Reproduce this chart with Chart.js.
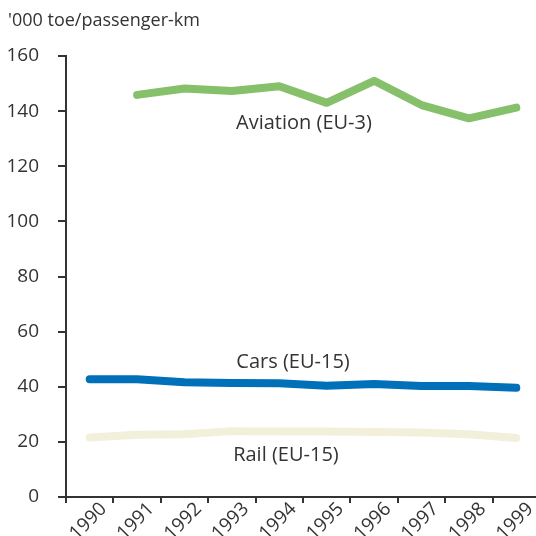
<!DOCTYPE html>
<html>
<head>
<meta charset="utf-8">
<script src="https://cdn.jsdelivr.net/npm/chart.js@4.4.1/dist/chart.umd.min.js"></script>
<style>
  html, body { margin: 0; padding: 0; background: #fff; overflow: hidden; }
  #wrap { position: relative; width: 540px; height: 536px; }
</style>
</head>
<body>
<div id="wrap"><canvas id="chart"></canvas></div>
<script>
// data
const years = ["1990", "1991", "1992", "1993", "1994", "1995", "1996", "1997", "1998", "1999"];
const aviation = [null, 145.9, 148.2, 147.3, 149.0, 143.0, 151.0, 142.2, 137.4, 141.3];
const cars = [42.7, 42.7, 41.6, 41.4, 41.3, 40.4, 41.0, 40.3, 40.3, 39.6];
const rail = [21.6, 22.6, 22.8, 23.9, 23.8, 23.8, 23.6, 23.4, 22.8, 21.4];
const yTicks = [0, 20, 40, 60, 80, 100, 120, 140, 160];
const unitLabel = "'000 toe/passenger-km";

// series name labels: [text, category index, value]
const seriesLabels = [
    ["Aviation (EU-3)", 4.52, 135.5],
    ["Cars (EU-15)", 4.29, 49],
    ["Rail (EU-15)", 4.14, 15.3]
];

const FONT = "'Open Sans', sans-serif";
const INK = "#333333";

const textPlugin = {
    id: "textPlugin",
    afterDatasetsDraw(chart) {
        const ctx = chart.ctx;
        const x = chart.scales.x;
        const y = chart.scales.y;
        ctx.save();
        ctx.fillStyle = INK;
        ctx.font = "18px " + FONT;
        ctx.textBaseline = "middle";
        ctx.textAlign = "left";
        ctx.fillText(unitLabel, 8, 21);
        ctx.textAlign = "center";
        ctx.font = "20px " + FONT;
        seriesLabels.forEach(([txt, idx, val]) => {
            const px = x.getPixelForValue(0) + idx * (x.getPixelForValue(1) - x.getPixelForValue(0));
            ctx.fillText(txt, px, y.getPixelForValue(val));
        });
        ctx.restore();
    }
};

function lineSet(label, data, color) {
    return {
        label,
        data,
        borderColor: color,
        backgroundColor: color,
        borderWidth: 8,
        pointRadius: 0,
        tension: 0,
        borderCapStyle: "round",
        borderJoinStyle: "round",
        spanGaps: false
    };
}

new Chart(document.getElementById("chart"), {
    type: "line",
    data: {
        labels: years,
        datasets: [
            lineSet("Aviation (EU-3)", aviation, "#86c06b"),
            lineSet("Cars (EU-15)", cars, "#0070b8"),
            lineSet("Rail (EU-15)", rail, "#f2f0da")
        ]
    },
    options: {
        responsive: true,
        maintainAspectRatio: false,
        animation: false,
        layout: { padding: { top: 56, left: 0, right: 0, bottom: 0 } },
        plugins: {
            legend: { display: false },
            tooltip: { enabled: false }
        },
        scales: {
            x: {
                type: "category",
                offset: true,
                afterFit(axis) { axis.height = 39; },
                border: { display: true, color: INK, width: 2 },
                grid: {
                    offset: true,
                    drawOnChartArea: false,
                    drawTicks: true,
                    tickLength: 6,
                    color: INK,
                    lineWidth: 2
                },
                ticks: {
                    color: INK,
                    font: { family: FONT, size: 19 },
                    minRotation: 45,
                    maxRotation: 45,
                    padding: -5,
                    labelOffset: 14,
                    autoSkip: false
                }
            },
            y: {
                min: 0,
                max: 160,
                afterFit(axis) { axis.width = 66; },
                afterBuildTicks(axis) {
                    axis.ticks = yTicks.map(v => ({ value: v }));
                },
                border: { display: true, color: INK, width: 2 },
                grid: {
                    drawOnChartArea: false,
                    drawTicks: true,
                    tickLength: 8,
                    color: INK,
                    lineWidth: 2
                },
                ticks: {
                    color: INK,
                    font: { family: FONT, size: 19 },
                    padding: 19
                }
            }
        }
    },
    plugins: [textPlugin]
});
</script>
</body>
</html>
